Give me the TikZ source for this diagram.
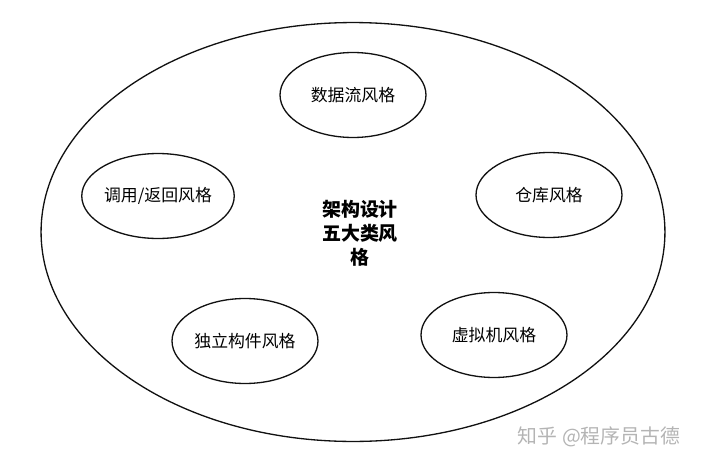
\documentclass[tikz,border=0pt]{standalone}
\usepackage{fontspec}
\setmainfont{Noto Sans CJK SC}
\usetikzlibrary{shapes.geometric}
\definecolor{inkline}{HTML}{111111}
\definecolor{marktext}{HTML}{B4B4B4}

\begin{document}
\begin{tikzpicture}[
  x=0.02cm, y=-0.02cm,
  outeroval/.style={
    draw=inkline, ellipse, line width=0.75pt, inner sep=0pt,
    minimum width=12.48cm, minimum height=8.38cm
  },
  kindoval/.style={
    draw=inkline, ellipse, line width=0.75pt, inner sep=0pt,
    minimum width=2.92cm, minimum height=1.7cm,
    font=\fontsize{9.6}{11.5}\selectfont
  },
  titletext/.style={
    align=center, font=\fontsize{10.8}{13.6}\selectfont\bfseries
  },
  marktext/.style={
    text=marktext, font=\fontsize{11.3}{13}\selectfont
  },
]
\useasboundingbox (0,0) rectangle (701,467);
\node[outeroval] (frame) at (353, 232) {};
\node[titletext] (title) at (360, 233) {架构设计\\五大类风\\格};
\node[kindoval] (dataflow) at (353, 95)  {数据流风格};
\node[kindoval] (callret)  at (158, 196) {调用/返回风格};
\node[kindoval] (repo)     at (549, 195) {仓库风格};
\node[kindoval] (indep)    at (245, 341) {独立构件风格};
\node[kindoval] (vmachine) at (494, 335) {虚拟机风格};
\node[marktext] (mark) at (599, 437) {知乎 @程序员古德};
\end{tikzpicture}
\end{document}
